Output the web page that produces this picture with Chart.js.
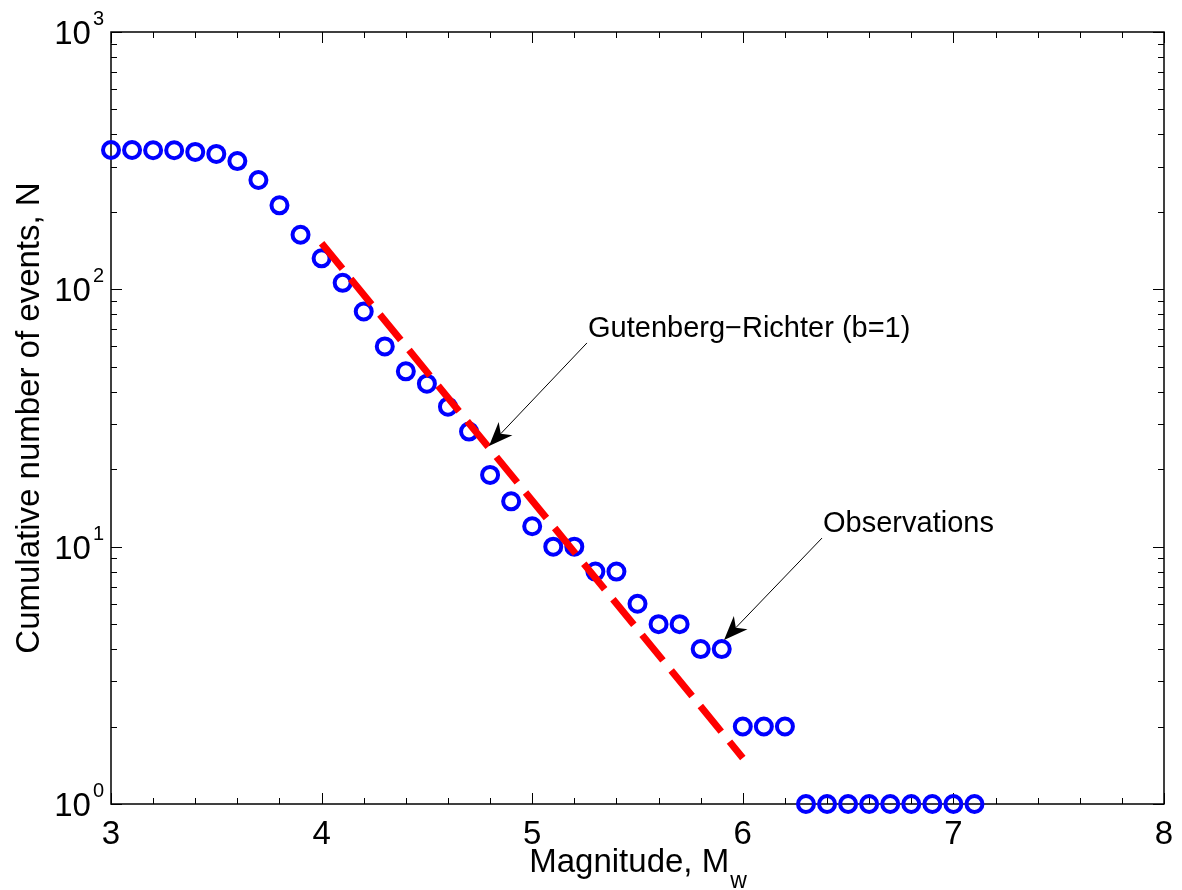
<!DOCTYPE html>
<html>
<head>
<meta charset="utf-8">
<script src="https://cdn.jsdelivr.net/npm/chart.js@4.4.1/dist/chart.umd.min.js"></script>
<style>
  html, body { margin: 0; padding: 0; background: #fff; }
  #wrap { width: 1182px; height: 890px; }
</style>
</head>
<body>
<div id="wrap"><canvas id="grChart" width="1182" height="890"></canvas></div>
<script>
const magnitudes = [3.0, 3.1, 3.2, 3.3, 3.4, 3.5, 3.6, 3.7, 3.8, 3.9,
  4.0, 4.1, 4.2, 4.3, 4.4, 4.5, 4.6, 4.7, 4.8, 4.9,
  5.0, 5.1, 5.2, 5.3, 5.4, 5.5, 5.6, 5.7, 5.8, 5.9,
  6.0, 6.1, 6.2, 6.3, 6.4, 6.5, 6.6, 6.7, 6.8, 6.9, 7.0, 7.1];
const counts = [348, 348, 347, 347, 342, 336, 315, 266, 212, 163,
  132, 106, 82, 60, 48, 43, 35, 28, 19, 15,
  12, 10, 10, 8, 8, 6, 5, 5, 4, 4,
  2, 2, 2, 1, 1, 1, 1, 1, 1, 1, 1, 1];

// Gutenberg-Richter fit, b = 1
const grMagnitudes = [4.0, 6.0];
const grCounts = [151, 1.51];

// axis ticks
const xMajorTicks = [3, 4, 5, 6, 7, 8];
const yMajorTicks = [1, 10, 100, 1000];
const yExponents = ["0", "1", "2", "3"];

// annotations: [text x, text y, arrow tail x, tail y, arrow tip x, tip y] in data units
const annGR = { text: "Gutenberg\u2212Richter (b=1)", pos: [5.265, 65.3, 5.26, 61.9, 4.795, 24.6] };
const annObs = { text: "Observations", pos: [6.381, 11.4, 6.376, 10.8, 5.911, 4.34] };

const FONT = '"Liberation Sans", Arial, Helvetica, sans-serif';

function drawArrow(ctx, x0, y0, x1, y1) {
  const dx = x1 - x0, dy = y1 - y0;
  const len = Math.hypot(dx, dy);
  const ux = dx / len, uy = dy / len;
  const px = -uy, py = ux;
  const headLen = 24, halfW = 9.5, notch = 17;
  ctx.save();
  ctx.strokeStyle = "#000";
  ctx.fillStyle = "#000";
  ctx.lineWidth = 1;
  ctx.beginPath();
  ctx.moveTo(x0, y0);
  ctx.lineTo(x1 - ux * notch, y1 - uy * notch);
  ctx.stroke();
  ctx.beginPath();
  ctx.moveTo(x1, y1);
  ctx.lineTo(x1 - ux * headLen + px * halfW, y1 - uy * headLen + py * halfW);
  ctx.lineTo(x1 - ux * notch, y1 - uy * notch);
  ctx.lineTo(x1 - ux * headLen - px * halfW, y1 - uy * headLen - py * halfW);
  ctx.closePath();
  ctx.fill();
  ctx.restore();
}

const matlabAxes = {
  id: "matlabAxes",
  beforeDatasetsDraw(chart) {
    const { ctx, chartArea: a, scales } = chart;
    const xs = scales.x, ys = scales.y;
    ctx.save();
    ctx.strokeStyle = "#000";
    ctx.lineWidth = 1;
    // x ticks (top & bottom, inward)
    for (let i = 0; i <= 25; i++) {
      const v = 3 + i * 0.2;
      const px = Math.round(xs.getPixelForValue(v)) + 0.5;
      const major = i % 5 === 0;
      const tl = major ? 11 : 6;
      ctx.beginPath();
      ctx.moveTo(px, a.bottom); ctx.lineTo(px, a.bottom - tl);
      ctx.moveTo(px, a.top); ctx.lineTo(px, a.top + tl);
      ctx.stroke();
    }
    // y ticks (left & right, inward)
    for (let d = 0; d < 3; d++) {
      for (let k = 1; k <= 10; k++) {
        const v = k * Math.pow(10, d);
        const py = Math.round(ys.getPixelForValue(v)) + 0.5;
        const major = k === 1 || k === 10;
        const tl = major ? 11 : 6;
        ctx.beginPath();
        ctx.moveTo(a.left, py); ctx.lineTo(a.left + tl, py);
        ctx.moveTo(a.right, py); ctx.lineTo(a.right - tl, py);
        ctx.stroke();
      }
    }
    // frame
    ctx.lineWidth = 1.5;
    ctx.strokeRect(a.left, a.top, a.right - a.left, a.bottom - a.top);

    // tick labels
    ctx.fillStyle = "#000";
    ctx.font = "33px " + FONT;
    ctx.textAlign = "center";
    ctx.textBaseline = "alphabetic";
    xMajorTicks.forEach(v => {
      ctx.fillText(String(v), xs.getPixelForValue(v), a.bottom + 40);
    });
    yMajorTicks.forEach((v, i) => {
      const py = ys.getPixelForValue(v);
      ctx.font = "20px " + FONT;
      ctx.textAlign = "right";
      ctx.fillText(yExponents[i], a.left - 7, py - 7);
      const ew = ctx.measureText(yExponents[i]).width;
      ctx.font = "33px " + FONT;
      ctx.fillText("10", a.left - 9 - ew, py + 12);
    });

    // x title with subscript
    const main = "Magnitude, M";
    ctx.font = "33px " + FONT;
    const mw = ctx.measureText(main).width;
    ctx.font = "23px " + FONT;
    const sw = ctx.measureText("w").width;
    const cx = (a.left + a.right) / 2;
    const start = cx - (mw + sw) / 2;
    ctx.textAlign = "left";
    ctx.font = "33px " + FONT;
    ctx.fillText(main, start, a.bottom + 68);
    ctx.font = "23px " + FONT;
    ctx.fillText("w", start + mw + 1, a.bottom + 84);

    // y title
    ctx.save();
    ctx.translate(39, (a.top + a.bottom) / 2);
    ctx.rotate(-Math.PI / 2);
    ctx.textAlign = "center";
    ctx.font = "33px " + FONT;
    ctx.fillText("Cumulative number of events, N", 0, 0);
    ctx.restore();
    ctx.restore();
  },
  afterDraw(chart) {
    const { ctx, scales } = chart;
    const xs = scales.x, ys = scales.y;
    ctx.save();
    ctx.fillStyle = "#000";
    ctx.font = "29px " + FONT;
    ctx.textAlign = "left";
    ctx.textBaseline = "alphabetic";
    [annGR, annObs].forEach(ann => {
      const p = ann.pos;
      ctx.fillText(ann.text, xs.getPixelForValue(p[0]), ys.getPixelForValue(p[1]));
      drawArrow(ctx,
        xs.getPixelForValue(p[2]), ys.getPixelForValue(p[3]),
        xs.getPixelForValue(p[4]), ys.getPixelForValue(p[5]));
    });
    ctx.restore();
  }
};

new Chart(document.getElementById("grChart").getContext("2d"), {
  type: "scatter",
  data: {
    datasets: [
      {
        label: "Observations",
        data: magnitudes.map((m, i) => ({ x: m, y: counts[i] })),
        showLine: false,
        pointStyle: "circle",
        pointRadius: 8,
        pointBorderWidth: 4,
        borderColor: "#0000ff",
        backgroundColor: "rgba(0,0,0,0)",
        clip: false,
        order: 2
      },
      {
        label: "Gutenberg-Richter (b=1)",
        data: grMagnitudes.map((m, i) => ({ x: m, y: grCounts[i] })),
        showLine: true,
        borderColor: "#ff0000",
        borderWidth: 7,
        borderDash: [33, 13],
        borderCapStyle: "butt",
        pointRadius: 0,
        fill: false,
        order: 1
      }
    ]
  },
  options: {
    responsive: false,
    animation: false,
    layout: { padding: { left: 111, right: 18, top: 32, bottom: 86 } },
    plugins: {
      legend: { display: false },
      tooltip: { enabled: false }
    },
    scales: {
      x: { type: "linear", min: 3, max: 8, display: false },
      y: { type: "logarithmic", min: 1, max: 1000, display: false }
    }
  },
  plugins: [matlabAxes]
});
</script>
</body>
</html>
